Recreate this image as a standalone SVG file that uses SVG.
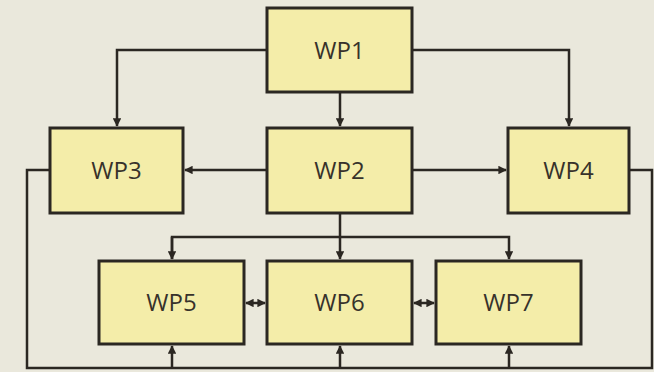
<svg xmlns="http://www.w3.org/2000/svg" width="654" height="372" viewBox="0 0 654 372">
  <style>
    .box { fill: #f4eda9; stroke: #2b2722; stroke-width: 3; }
    .lbl { font-family: "Open Sans", "Noto Sans", sans-serif; font-size: 24px; fill: #37322b; text-anchor: middle; }
    .wire { fill: none; stroke: #2b2722; stroke-width: 2.5; }
  </style>
  <defs>
    <marker id="arrow" viewBox="0 0 10 10" refX="9" refY="5" markerWidth="3.4" markerHeight="3.4" markerUnits="strokeWidth" orient="auto-start-reverse">
      <path d="M0,0 L10,5 L0,10 Z" fill="#2b2722"/>
    </marker>
  </defs>
  <rect width="654" height="372" fill="#eae8dc"/>

  <g id="connectors">
    <!-- WP1 fan-out -->
    <path class="wire" d="M267,50 H117 V126" marker-end="url(#arrow)"/>
    <path class="wire" d="M412,50 H569 V126" marker-end="url(#arrow)"/>
    <path class="wire" d="M340,92 V126" marker-end="url(#arrow)"/>
    <!-- WP2 to WP3 / WP4 -->
    <path class="wire" d="M267,170 H185" marker-end="url(#arrow)"/>
    <path class="wire" d="M412,170 H506" marker-end="url(#arrow)"/>
    <!-- WP2 to WP5 / WP6 / WP7 -->
    <path class="wire" d="M340,213 V259" marker-end="url(#arrow)"/>
    <path class="wire" d="M172,259 V237 H509 V259" marker-end="url(#arrow)"/>
    <path class="wire" d="M172,237 V259" marker-end="url(#arrow)"/>
    <!-- feedback loop along the bottom -->
    <path class="wire" d="M50,170 H27 V368 H652 V170 H629"/>
    <path class="wire" d="M172,368 V346" marker-end="url(#arrow)"/>
    <path class="wire" d="M340,368 V346" marker-end="url(#arrow)"/>
    <path class="wire" d="M509,368 V346" marker-end="url(#arrow)"/>
    <!-- peer links -->
    <path class="wire" d="M246,303 H265" marker-start="url(#arrow)" marker-end="url(#arrow)"/>
    <path class="wire" d="M414,303 H434" marker-start="url(#arrow)" marker-end="url(#arrow)"/>
  </g>

  <g id="wp1"><rect class="box" x="267" y="8" width="145" height="84"/><text class="lbl" x="339.5" y="58.5">WP1</text></g>
  <g id="wp2"><rect class="box" x="267" y="128" width="145" height="85"/><text class="lbl" x="339.5" y="178.5">WP2</text></g>
  <g id="wp3"><rect class="box" x="50" y="128" width="133" height="85"/><text class="lbl" x="116.5" y="178.5">WP3</text></g>
  <g id="wp4"><rect class="box" x="508" y="128" width="121" height="85"/><text class="lbl" x="568.5" y="178.5">WP4</text></g>
  <g id="wp5"><rect class="box" x="99" y="261" width="145" height="83"/><text class="lbl" x="171.5" y="311">WP5</text></g>
  <g id="wp6"><rect class="box" x="267" y="261" width="145" height="83"/><text class="lbl" x="339.5" y="311">WP6</text></g>
  <g id="wp7"><rect class="box" x="436" y="261" width="145" height="83"/><text class="lbl" x="508.5" y="311">WP7</text></g>
</svg>
